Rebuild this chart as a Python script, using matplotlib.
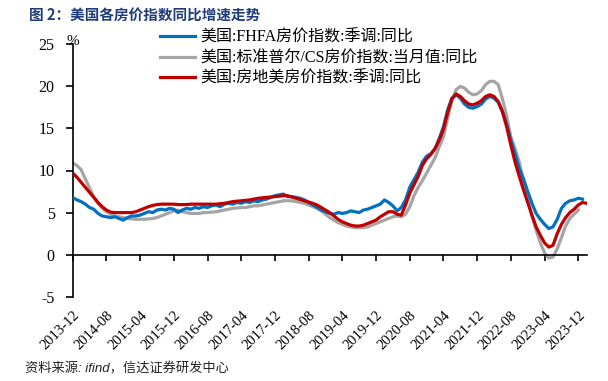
import numpy as np
import matplotlib
matplotlib.use("Agg")
import matplotlib.pyplot as plt

# ---- data (monthly, starting 2013-12) ----
fhfa = [6.8, 6.5, 6.3, 6.0, 5.6, 5.4, 4.9, 4.6, 4.5, 4.4, 4.5, 4.3, 4.1, 4.4, 4.6, 4.6, 4.7, 4.9, 5.1, 5.0,
        5.3, 5.4, 5.3, 5.5, 5.4, 5.0, 5.3, 5.5, 5.4, 5.6, 5.5, 5.7, 5.6, 5.8, 5.9, 5.7, 6.0, 6.1, 6.0, 6.2,
        6.1, 6.3, 6.2, 6.4, 6.3, 6.5, 6.6, 6.8, 7.0, 7.1, 7.2, 6.9, 6.9, 6.8, 6.7, 6.5, 6.2, 5.9, 5.6, 5.3,
        5.1, 4.9, 4.8, 5.0, 4.9, 5.0, 5.2, 5.1, 5.0, 5.3, 5.4, 5.6, 5.8, 6.0, 6.5, 6.2, 5.8, 5.2, 5.6, 6.5,
        8.0, 8.9, 9.8, 11.0, 11.7, 12.0, 12.6, 13.8, 15.2, 17.2, 18.6, 19.0, 18.6, 17.9, 17.5, 17.4, 17.6, 17.9, 18.5, 18.8,
        18.6, 18.1, 17.0, 15.5, 13.6, 12.0, 10.2, 9.0, 7.5, 6.1, 4.9, 4.2, 3.6, 3.1, 3.3, 4.2, 5.5, 6.1, 6.4, 6.5,
        6.7, 6.6, np.nan]

case_shiller = [10.9, 10.6, 10.1, 9.0, 7.9, 6.9, 6.1, 5.5, 5.1, 4.8, 4.6, 4.5, 4.4, 4.3, 4.25, 4.2, 4.2, 4.2, 4.25, 4.3,
                4.4, 4.6, 4.8, 5.0, 5.2, 5.3, 5.1, 5.0, 4.9, 4.9, 4.9, 5.0, 5.0, 5.05, 5.1, 5.2, 5.3, 5.4, 5.5, 5.55,
                5.6, 5.6, 5.7, 5.8, 5.8, 5.9, 6.0, 6.1, 6.2, 6.3, 6.4, 6.4, 6.4, 6.3, 6.2, 6.1, 5.9, 5.7, 5.5, 5.2,
                4.8, 4.4, 4.1, 3.8, 3.6, 3.4, 3.3, 3.2, 3.2, 3.2, 3.3, 3.5, 3.7, 3.9, 4.1, 4.3, 4.5, 4.6, 4.5, 4.8,
                5.7, 7.0, 8.0, 8.8, 9.7, 10.6, 11.5, 12.8, 14.0, 16.2, 18.3, 19.6, 20.0, 19.8, 19.3, 19.0, 19.1, 19.5, 20.2, 20.6,
                20.6, 20.2, 18.5, 16.5, 14.0, 12.6, 11.0, 8.8, 6.6, 4.6, 2.9, 1.4, 0.2, -0.4, -0.3, 0.7, 2.0, 3.4, 4.3, 4.8,
                5.3, np.nan, np.nan]

freddie = [9.7, 9.2, 8.6, 8.0, 7.4, 6.8, 6.2, 5.7, 5.3, 5.05, 5.0, 5.0, 5.0, 5.0, 5.0, 5.1, 5.3, 5.5, 5.7, 5.85,
           5.95, 6.0, 6.0, 6.0, 6.0, 5.95, 5.95, 5.95, 6.0, 6.0, 6.0, 6.0, 6.0, 6.0, 6.0, 6.05, 6.1, 6.2, 6.3, 6.35,
           6.4, 6.45, 6.5, 6.6, 6.7, 6.75, 6.8, 6.85, 6.9, 6.95, 7.0, 7.0, 6.85, 6.7, 6.55, 6.4, 6.25, 6.1, 5.9, 5.6,
           5.3, 5.0, 4.6, 4.2, 3.9, 3.7, 3.5, 3.4, 3.4, 3.5, 3.7, 3.9, 4.1, 4.5, 4.8, 5.1, 5.1, 4.8, 4.7, 5.9,
           7.3, 8.3, 9.3, 10.6, 11.4, 11.9, 12.6, 13.6, 14.9, 16.9, 18.5, 19.1, 18.8, 18.3, 17.9, 17.8, 18.0, 18.3, 18.8, 19.0,
           18.8, 18.2, 17.0, 15.2, 13.0, 11.0, 9.3, 7.7, 6.2, 4.7, 3.3, 2.3, 1.4, 0.9, 1.1, 2.5, 3.6, 4.4, 5.0, 5.4,
           5.9, 6.2, 6.1]

tick_labels = ["2013-12", "2014-08", "2015-04", "2015-12", "2016-08", "2017-04", "2017-12", "2018-08",
               "2019-04", "2019-12", "2020-08", "2021-04", "2021-12", "2022-08", "2023-04", "2023-12"]

series_names = ["美国:FHFA房价指数:季调:同比", "美国:标准普尔/CS房价指数:当月值:同比", "美国:房地美房价指数:季调:同比"]
colors = ["#0070C0", "#A5A5A5", "#C00000"]

FONT = ["Liberation Serif", "Noto Sans CJK SC"]
plt.rcParams["font.family"] = FONT

fig = plt.figure(figsize=(6.08, 3.81), dpi=100)
ax = fig.add_axes([72.7 / 608, 1 - 296.7 / 381, (586.7 - 72.7) / 608, (296.7 - 44.3) / 381])

for s in ["top", "right"]:
    ax.spines[s].set_visible(False)
ax.spines["bottom"].set_position(("data", 0))
ax.spines["bottom"].set_linewidth(1.2)
ax.spines["left"].set_linewidth(1.2)

x = np.arange(len(freddie))
lw = 2.3
l2, = ax.plot(x, case_shiller, color=colors[1], lw=lw, label=series_names[1], zorder=2)
l1, = ax.plot(x, fhfa, color=colors[0], lw=lw, label=series_names[0], zorder=3)
l3, = ax.plot(x, freddie, color=colors[2], lw=lw, label=series_names[2], zorder=4)

ax.set_xlim(0, 122)
ax.set_ylim(-5, 25)
ax.set_yticks(np.arange(-5, 26, 5))
ax.set_yticklabels([str(v) for v in range(-5, 26, 5)], fontsize=11.5, family=FONT)

ax.set_xticks(np.arange(0, 121, 8))
ax.set_xticklabels(tick_labels, fontsize=10.5, family=FONT)
for lab in ax.get_xticklabels():
    lab.set_rotation(45)
    lab.set_ha("right")
    lab.set_va("top")
    lab.set_rotation_mode("anchor")

ax.tick_params(axis="y", direction="out", length=5, width=1.2, pad=8)
ax.tick_params(axis="x", direction="out", length=4, width=1.2, pad=35)

ax.annotate("%", xy=(0, 1), xycoords="axes fraction", xytext=(0, 2), textcoords="offset points",
            fontsize=11, family=FONT, ha="center", va="center")

leg = fig.legend(handles=[l1, l2, l3], loc="upper left", bbox_to_anchor=(160 / 608, 1 - 30 / 381),
                 frameon=False, prop={"family": FONT, "size": 11.5},
                 handlelength=2.2, handletextpad=0.35, labelspacing=0.28, borderpad=0, borderaxespad=0)

fig.text(29 / 608, 1 - 15 / 381, "图 2：美国各房价指数同比增速走势", fontsize=10.5, fontweight="bold",
         color="#1F3C7A", family=["Noto Sans CJK SC"], ha="left", va="center")
fig.text(25 / 608, 1 - 369 / 381, "资料来源: ifind，信达证券研发中心", fontsize=9.5, style="italic",
         color="#222222", family=["Liberation Sans", "Noto Sans CJK SC"], ha="left", va="center")

fig.savefig("out.png", dpi=100)
